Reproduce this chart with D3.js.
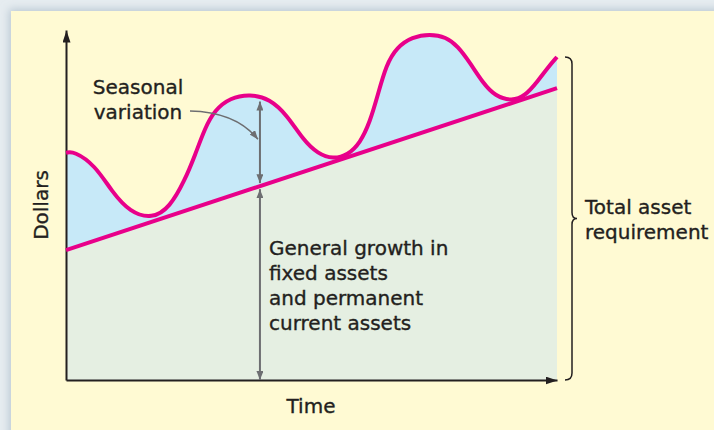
<!DOCTYPE html>
<html>
<head>
<meta charset="utf-8">
<script src="https://cdn.jsdelivr.net/npm/d3@7"></script>
<style>
  html, body { margin: 0; padding: 0; background: #e6ecf0; }
  svg { display: block; }
  text { font-family: "DejaVu Sans", sans-serif; font-size: 20px; fill: #231f20;
         stroke: #231f20; stroke-width: 0.35px; }
</style>
</head>
<body>
<svg id="chart" width="714" height="430"></svg>
<script>
// Total asset requirement over time (seasonal pattern riding on a rising trend)
const time = [0, 1.6, 5.9, 9.4, 13.0, 17.5, 21.2, 24.2, 26.3, 28.3, 30.3, 33.4, 37.5, 41.5, 45.0,
              48.3, 51.3, 54.4, 57.4, 59.9, 61.9, 63.5, 65.2, 67.4, 70.5, 74.1, 77.4, 79.8, 82.3,
              84.9, 87.4, 90.8, 93.5, 96.1, 98.2, 100];
const totalAssets = [64.9, 65.4, 61.4, 53.7, 48.0, 46.0, 49.4, 57.1, 64.3, 72.0, 77.1, 80.6, 81.7, 80.3,
                     75.7, 68.6, 64.6, 63.1, 64.3, 67.7, 73.7, 81.4, 90.0, 95.1, 98.0, 98.9, 98.0, 95.4,
                     90.6, 84.9, 81.1, 79.7, 81.1, 85.4, 89.4, 92.3];

// Permanent (fixed + permanent current) assets: straight growth trend
const trendTime = [0, 100];
const trendAssets = [37.1, 83.4];

// Point in time where the two components are measured
const markTime = 39.5;

const xTitle = "Time";
const yTitle = "Dollars";
const seasonalLabel = ["Seasonal", "variation"];
const growthLabel = ["General growth in", "fixed assets", "and permanent", "current assets"];
const totalLabel = ["Total asset", "requirement"];

const svg = d3.select("#chart");
const W = 714, H = 430;

const x = d3.scaleLinear().domain([0, 100]).range([66, 557]);
const y = d3.scaleLinear().domain([0, 100]).range([380, 30]);

const trend = d3.scaleLinear().domain(trendTime).range(trendAssets);
const totalAt = d3.scaleLinear().domain(time).range(totalAssets);

const defs = svg.append("defs");
const shadow = defs.append("filter").attr("id", "soft").attr("x", "-10%").attr("y", "-10%")
  .attr("width", "120%").attr("height", "120%");
shadow.append("feGaussianBlur").attr("stdDeviation", 4);

function arrowMarker(id, color, len, half) {
  defs.append("marker")
    .attr("id", id)
    .attr("markerUnits", "userSpaceOnUse")
    .attr("viewBox", `${-len} ${-half} ${len} ${half * 2}`)
    .attr("refX", 0).attr("refY", 0)
    .attr("markerWidth", len).attr("markerHeight", half * 2)
    .attr("orient", "auto-start-reverse")
    .append("path")
    .attr("d", `M0,0L${-len},${-half}L${-len},${half}Z`)
    .attr("fill", color);
}
arrowMarker("axisHead", "#231f20", 12, 4);
arrowMarker("grayHead", "#6d6e71", 9, 3.5);

// Page background and panel with a soft shadow
svg.append("rect").attr("width", W).attr("height", H).attr("fill", "#e6ecf0");
svg.append("rect").attr("x", 9).attr("y", 9).attr("width", W + 20).attr("height", H + 20)
  .attr("fill", "#b9c8d3").attr("filter", "url(#soft)");
svg.append("rect").attr("x", 11).attr("y", 11).attr("width", W).attr("height", H)
  .attr("fill", "#fffad3");

const totalCurve = d3.curveBasis;
const totalPoints = time.map((t, i) => [t, totalAssets[i]]);
const trendPoints = trendTime.map((t, i) => [t, trendAssets[i]]);

// Seasonal area (curve down to the base)
svg.append("path")
  .datum(totalPoints)
  .attr("fill", "#c7e9f8")
  .attr("d", d3.area().x(d => x(d[0])).y0(y(0)).y1(d => y(d[1])).curve(totalCurve));

// Permanent area (trend down to the base)
svg.append("path")
  .datum(trendPoints)
  .attr("fill", "#e5efe2")
  .attr("d", d3.area().x(d => x(d[0])).y0(y(0)).y1(d => y(d[1])));

// Axes without ticks, finished with arrowheads
const xAxis = svg.append("g").attr("transform", `translate(0,${y(0)})`)
  .call(d3.axisBottom(x).tickValues([]).tickSizeOuter(0));
xAxis.select(".domain").attr("stroke", "#231f20").attr("stroke-width", 2)
  .attr("marker-end", "url(#axisHead)");
const yAxis = svg.append("g").attr("transform", `translate(${x(0)},0)`)
  .call(d3.axisLeft(y).tickValues([]).tickSizeOuter(0));
yAxis.select(".domain").attr("stroke", "#231f20").attr("stroke-width", 2)
  .attr("marker-end", "url(#axisHead)");

// Measurement arrows at markTime
const mx = x(markTime);
const yTrend = y(trend(markTime));
const yTotal = y(totalAt(markTime));
svg.append("line")
  .attr("x1", mx).attr("x2", mx)
  .attr("y1", yTrend - 3).attr("y2", yTotal + 5)
  .attr("stroke", "#6d6e71").attr("stroke-width", 2)
  .attr("marker-start", "url(#grayHead)").attr("marker-end", "url(#grayHead)");
svg.append("line")
  .attr("x1", mx).attr("x2", mx)
  .attr("y1", yTrend + 3).attr("y2", y(0))
  .attr("stroke", "#6d6e71").attr("stroke-width", 2)
  .attr("marker-start", "url(#grayHead)").attr("marker-end", "url(#grayHead)");

// Trend line and total requirement curve
svg.append("path")
  .datum(trendPoints)
  .attr("fill", "none").attr("stroke", "#e8008a").attr("stroke-width", 4)
  .attr("d", d3.line().x(d => x(d[0])).y(d => y(d[1])));
svg.append("path")
  .datum(totalPoints)
  .attr("fill", "none").attr("stroke", "#e8008a").attr("stroke-width", 4)
  .attr("stroke-linejoin", "round")
  .attr("d", d3.line().x(d => x(d[0])).y(d => y(d[1])).curve(totalCurve));

// Leader from the seasonal label to the upper arrow
const leadStart = [190, 111];
const leadEnd = [mx - 2, (yTotal + yTrend) / 2 - 2];
const leader = d3.path();
leader.moveTo(leadStart[0], leadStart[1]);
leader.quadraticCurveTo(236, 112, leadEnd[0], leadEnd[1]);
svg.append("path").attr("d", leader.toString())
  .attr("fill", "none").attr("stroke", "#6d6e71").attr("stroke-width", 1.5)
  .attr("marker-end", "url(#grayHead)");

// Brace spanning the total requirement
const bTop = y(totalAssets[totalAssets.length - 1]);
const bBot = y(0);
const bMid = (bTop + bBot) / 2;
const bx = 572;
const brace = d3.path();
brace.moveTo(bx - 7, bTop);
brace.quadraticCurveTo(bx, bTop, bx, bTop + 7);
brace.lineTo(bx, bMid - 6);
brace.quadraticCurveTo(bx, bMid, bx + 5, bMid);
brace.quadraticCurveTo(bx, bMid, bx, bMid + 6);
brace.lineTo(bx, bBot - 7);
brace.quadraticCurveTo(bx, bBot, bx - 7, bBot);
svg.append("path").attr("d", brace.toString())
  .attr("fill", "none").attr("stroke", "#231f20").attr("stroke-width", 1.5);

// Labels
svg.append("text").attr("x", 311).attr("y", 413).attr("text-anchor", "middle").text(xTitle);
svg.append("text").attr("transform", "translate(48,205) rotate(-90)")
  .attr("text-anchor", "middle").text(yTitle);

svg.append("g").selectAll("text").data(seasonalLabel).join("text")
  .attr("x", 138).attr("y", (d, i) => 94 + i * 25)
  .attr("text-anchor", "middle").text(d => d);

svg.append("g").selectAll("text").data(growthLabel).join("text")
  .attr("x", 269).attr("y", (d, i) => 255 + i * 25).text(d => d);

svg.append("g").selectAll("text").data(totalLabel).join("text")
  .attr("x", 585).attr("y", (d, i) => 214 + i * 25).text(d => d);
</script>
</body>
</html>
